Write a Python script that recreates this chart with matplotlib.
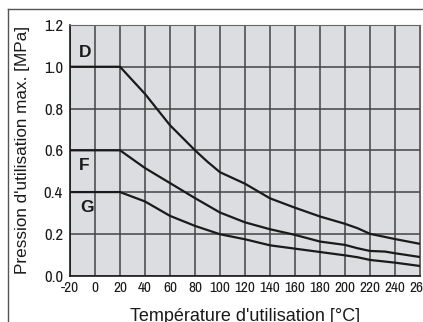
import matplotlib.pyplot as plt
from matplotlib.lines import Line2D

plt.rcParams['axes.unicode_minus'] = False

# data
temp_D = [-20, 20, 40, 60, 80, 90, 100, 120, 140, 160, 180, 200, 210, 220, 240, 260]
pres_D = [1.0, 1.0, 0.87, 0.72, 0.60, 0.545, 0.495, 0.44, 0.37, 0.325, 0.283, 0.248, 0.227, 0.2, 0.175, 0.152]
temp_F = [-20, 20, 40, 60, 80, 100, 120, 140, 160, 180, 200, 210, 220, 232, 240, 260]
pres_F = [0.6, 0.6, 0.515, 0.443, 0.371, 0.302, 0.255, 0.222, 0.195, 0.163, 0.147, 0.131, 0.118, 0.115, 0.107, 0.089]
temp_G = [-20, 20, 40, 60, 80, 100, 120, 140, 160, 180, 200, 210, 220, 240, 260]
pres_G = [0.4, 0.4, 0.355, 0.286, 0.238, 0.198, 0.174, 0.145, 0.129, 0.113, 0.097, 0.088, 0.075, 0.062, 0.046]
curve_names = ["D", "F", "G"]
name_pos = [(-13, 1.07), (-13, 0.525), (-12, 0.325)]
xticks = list(range(-20, 261, 20))
yticks = [0.0, 0.2, 0.4, 0.6, 0.8, 1.0, 1.2]

narrow = ['Archivo Narrow', 'Roboto Condensed', 'DejaVu Sans']
plain = ['Liberation Sans', 'DejaVu Sans']

fig = plt.figure(figsize=(4.23, 3.22), dpi=100)
ax = fig.add_axes([70 / 423, 1 - 275.6 / 322, 350 / 423, 250.6 / 322])
ax.set_facecolor('#dcdde0')

for xs, ys in [(temp_D, pres_D), (temp_F, pres_F), (temp_G, pres_G)]:
    ax.plot(xs, ys, color='#1a1a1a', lw=1.6, zorder=3, solid_joinstyle='round')

for n, (px, py) in zip(curve_names, name_pos):
    ax.text(px, py, n, fontsize=12.5, fontweight='bold', family=plain,
            color='#1a1a1a', va='center', ha='left', zorder=4)

ax.set_xlim(-20, 260)
ax.set_ylim(0, 1.2)
ax.set_xticks(xticks)
ax.set_yticks(yticks)
ax.set_yticklabels([f"{v:.1f}" for v in yticks])
ax.grid(True, color='#444444', lw=1.1)
ax.set_axisbelow(True)
ax.tick_params(length=0, colors='#1a1a1a')
ax.tick_params(axis='y', pad=5, labelsize=12)
ax.tick_params(axis='x', pad=4, labelsize=11)
for lab in ax.get_xticklabels() + ax.get_yticklabels():
    lab.set_family(narrow)

for s in ['top', 'right']:
    ax.spines[s].set_color('#666666')
    ax.spines[s].set_linewidth(0.8)
for s in ['left', 'bottom']:
    ax.spines[s].set_color('#1a1a1a')
    ax.spines[s].set_linewidth(1.2)

ax.set_ylabel("Pression d'utilisation max. [MPa]", family=plain,
              fontsize=12.3, color='#1a1a1a')
ax.yaxis.set_label_coords(-(70 - 30) / 350, 0.5)
ax.set_xlabel("Température d'utilisation [°C]", family=plain,
              fontsize=13, color='#1a1a1a', va='top')
ax.xaxis.set_label_coords(0.5, -(308 - 275.6) / 250.6)

# outer frame
fig.add_artist(Line2D([8 / 423, 8 / 423], [0, 1 - 9 / 322], color='#555555', lw=1.0))
fig.add_artist(Line2D([8 / 423, 1], [1 - 9 / 322, 1 - 9 / 322], color='#555555', lw=1.0))

fig.savefig('out.png', dpi=100)
